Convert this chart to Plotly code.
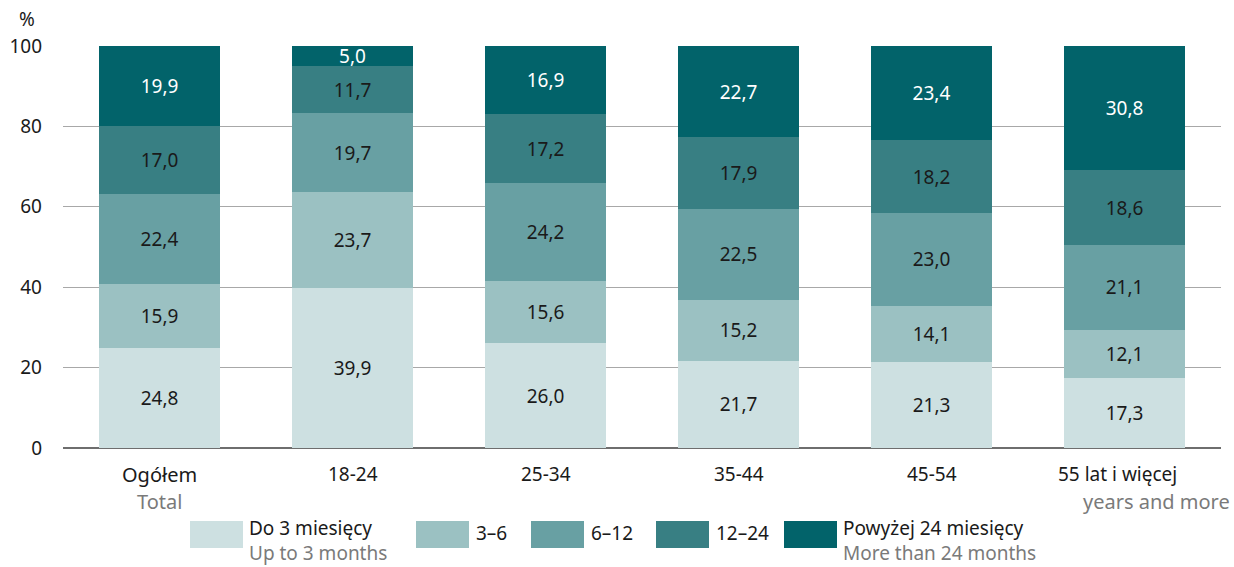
import plotly.graph_objects as go

categories = ["Ogółem", "18-24", "25-34", "35-44", "45-54", "55 lat i więcej"]
cat_sub = ["Total", "", "", "", "", "years and more"]
series_names = ["Do 3 miesięcy", "3–6", "6–12", "12–24", "Powyżej 24 miesięcy"]
series_sub = ["Up to 3 months", "", "", "", "More than 24 months"]
s_do3 = [24.8, 39.9, 26.0, 21.7, 21.3, 17.3]
s_3_6 = [15.9, 23.7, 15.6, 15.2, 14.1, 12.1]
s_6_12 = [22.4, 19.7, 24.2, 22.5, 23.0, 21.1]
s_12_24 = [17.0, 11.7, 17.2, 17.9, 18.2, 18.6]
s_24p = [19.9, 5.0, 16.9, 22.7, 23.4, 30.8]
series_values = [s_do3, s_3_6, s_6_12, s_12_24, s_24p]
y_ticks = [0, 20, 40, 60, 80, 100]

colors = ["#cde0e1", "#9bc1c2", "#68a0a3", "#387f83", "#02636a"]
text_colors = ["#1a1a1a", "#1a1a1a", "#1a1a1a", "#1a1a1a", "#ffffff"]
GRAY = "#7a7a7a"
FONT = "Noto Sans"
FS = 19
FSL = 20

W, H = 1234, 567
L, R, T, B = 63, 13, 46, 119
PW, PH = W - L - R, H - T - B


def px(x):
    return (x - L) / PW


def py(y):
    return (H - B - y) / PH


fig = go.Figure()
for name, vals, c, tc in zip(series_names, series_values, colors, text_colors):
    fig.add_trace(go.Bar(
        x=categories, y=vals, name=name,
        marker=dict(color=c, line=dict(width=0)),
        text=[f"{v:.1f}".replace(".", ",") for v in vals],
        textposition="inside", insidetextanchor="middle", textangle=0,
        textfont=dict(family=FONT, size=FS, color=tc),
        showlegend=False, hoverinfo="skip",
    ))

annotations = []
# category labels
for i, c in enumerate(categories):
    annotations.append(dict(x=c, xref="x", y=py(474), yref="paper", text=c,
                            showarrow=False, xanchor="center", yanchor="middle",
                            xshift=-7 if i == len(categories) - 1 else 0,
                            font=dict(family=FONT, size=FSL if i == 0 else FS,
                                      color="#1a1a1a")))
for i, s in enumerate(cat_sub):
    if not s:
        continue
    if i == len(categories) - 1:
        annotations.append(dict(x=px(1232), xref="paper", y=py(501), yref="paper", text=s,
                                showarrow=False, xanchor="right", yanchor="middle",
                                font=dict(family=FONT, size=FSL, color=GRAY)))
    else:
        annotations.append(dict(x=categories[i], xref="x", y=py(501), yref="paper", text=s,
                                showarrow=False, xanchor="center", yanchor="middle",
                                font=dict(family=FONT, size=FSL, color=GRAY)))

annotations.append(dict(x=px(27), xref="paper", y=py(19), yref="paper", text="%",
                        showarrow=False, xanchor="center", yanchor="middle",
                        font=dict(family=FONT, size=FS, color="#1a1a1a")))

# legend
sw_x = [190, 416, 531, 656, 784]
sw_w = 53
shapes = []
for i, (name, sub, c) in enumerate(zip(series_names, series_sub, colors)):
    x0 = sw_x[i]
    shapes.append(dict(type="rect", xref="paper", yref="paper",
                       x0=px(x0), x1=px(x0 + sw_w), y0=py(548), y1=py(521),
                       fillcolor=c, line=dict(width=0)))
    if sub:
        annotations.append(dict(x=px(x0 + sw_w + 5), xref="paper", y=py(567), yref="paper",
                                text=f"{name}<br><span style='color:{GRAY}'>{sub}</span>",
                                showarrow=False, xanchor="left", yanchor="bottom",
                                align="left", borderpad=0,
                                font=dict(family=FONT, size=FS, color="#1a1a1a")))
    else:
        annotations.append(dict(x=px(x0 + sw_w + 5), xref="paper", y=py(533), yref="paper",
                                text=name, showarrow=False, xanchor="left", yanchor="middle",
                                font=dict(family=FONT, size=FS, color="#1a1a1a")))

fig.update_layout(
    width=W, height=H,
    margin=dict(l=L, r=R, t=T, b=B, autoexpand=False),
    barmode="stack", bargap=0.373,
    plot_bgcolor="white", paper_bgcolor="white",
    uniformtext=dict(minsize=FS, mode="show"),
    xaxis=dict(showticklabels=False, showgrid=False, zeroline=False, showline=False,
               ticks="", fixedrange=True),
    yaxis=dict(range=[0, 100], tickvals=y_ticks, ticktext=[str(v) for v in y_ticks],
               showgrid=True, gridcolor="#a8a8a8", gridwidth=1,
               zeroline=True, zerolinecolor="#6e6e6e", zerolinewidth=1.5,
               showline=False, ticks="", ticklabelstandoff=20,
               tickfont=dict(family=FONT, size=FS, color="#1a1a1a")),
    annotations=annotations, shapes=shapes,
    font=dict(family=FONT, size=FS),
)
fig.write_html("out.html", config={"displayModeBar": False},
               post_script="document.body.style.margin='0';document.body.style.overflow='hidden';")
